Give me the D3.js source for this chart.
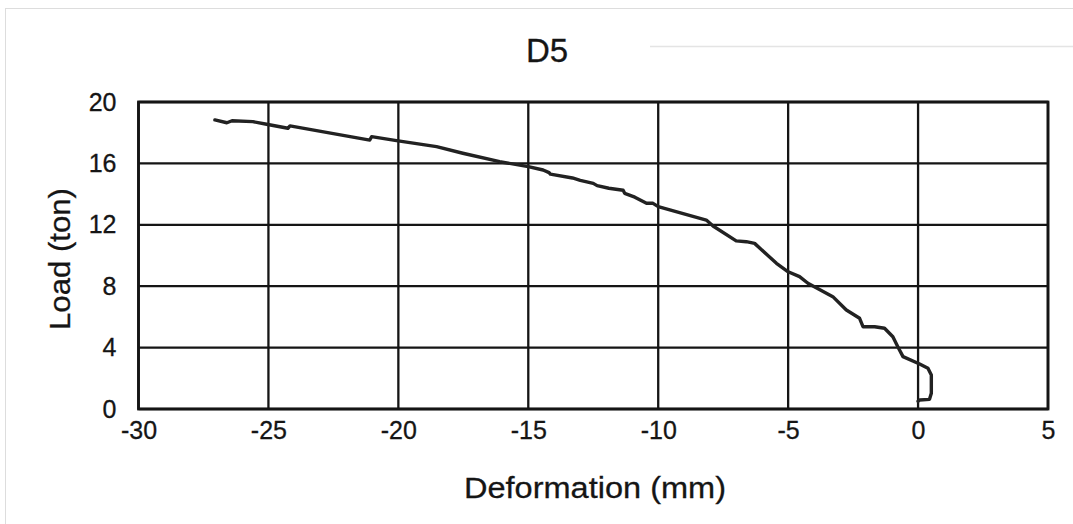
<!DOCTYPE html>
<html><head><meta charset="utf-8">
<script src="https://cdn.jsdelivr.net/npm/d3@7"></script>
<style>body{margin:0;background:#fff}svg{display:block}</style>
</head><body>
<svg id="c" width="1073" height="524"></svg>
<script>
const title = "D5";
const xLabel = "Deformation (mm)";
const yLabel = "Load (ton)";
const xTicks = [-30,-25,-20,-15,-10,-5,0,5];
const yTicks = [0,4,8,12,16,20];
const deformation = [0.0,0.06,0.44,0.51,0.51,0.38,0.06,-0.58,-0.78,-0.97,-1.29,-1.67,-2.12,-2.25,-2.76,-3.28,-4.24,-4.56,-5.0,-5.45,-6.29,-6.61,-7.0,-7.89,-8.15,-10.0,-10.2,-10.45,-10.9,-11.29,-11.35,-11.9,-12.35,-12.5,-13.0,-13.3,-14.15,-14.2,-14.43,-15.0,-16.1,-17.52,-18.53,-20.07,-21.03,-21.1,-24.17,-24.25,-25.07,-25.6,-26.4,-26.6,-27.06];
const load = [0.5,0.59,0.63,1.02,2.21,2.65,2.93,3.41,4.06,4.71,5.26,5.36,5.36,5.91,6.45,7.32,8.19,8.62,8.94,9.49,10.79,10.9,10.95,11.92,12.31,13.18,13.4,13.4,13.8,14.05,14.25,14.38,14.55,14.7,14.9,15.05,15.3,15.4,15.57,15.79,16.11,16.66,17.09,17.48,17.74,17.52,18.44,18.29,18.55,18.72,18.78,18.65,18.83];

const FONT = "Liberation Sans, Arial, sans-serif";
const svg = d3.select("#c");
const L = 138.5, R = 1048, T = 102, B = 409;
const x = d3.scaleLinear().domain([-30,5]).range([L,R]);
const y = d3.scaleLinear().domain([0,20]).range([B,T]);

// faint outer frame
svg.append("rect").attr("x",5.5).attr("y",8.5).attr("width",1080).attr("height",530)
  .attr("fill","none").attr("stroke","#ddd").attr("stroke-width",1);
svg.append("line").attr("x1",650).attr("x2",1073).attr("y1",46.5).attr("y2",46.5)
  .attr("stroke","#e4e4e4").attr("stroke-width",1.5);

// gridlines
svg.append("g").selectAll("line").data(xTicks).join("line")
  .attr("x1",d=>x(d)).attr("x2",d=>x(d)).attr("y1",T).attr("y2",B)
  .attr("stroke","#151515").attr("stroke-width",2.3);
svg.append("g").selectAll("line").data(yTicks).join("line")
  .attr("x1",L).attr("x2",R).attr("y1",d=>y(d)).attr("y2",d=>y(d))
  .attr("stroke","#151515").attr("stroke-width",2.3);
svg.append("rect").attr("x",L).attr("y",T).attr("width",R-L).attr("height",B-T)
  .attr("fill","none").attr("stroke","#151515").attr("stroke-width",2.8);

// axes text
const xAxis = d3.axisBottom(x).tickValues(xTicks).tickSize(0).tickPadding(12).tickFormat(d=>String(d));
const gx = svg.append("g").attr("transform",`translate(0,${B})`).call(xAxis);
gx.select(".domain").remove();
gx.selectAll("text").attr("font-family",FONT).attr("font-size",25).attr("fill","#151515")
  .attr("stroke","#151515").attr("stroke-width",0.3);
const yAxis = d3.axisLeft(y).tickValues(yTicks).tickSize(0).tickPadding(22).tickFormat(d=>String(d));
const gy = svg.append("g").attr("transform",`translate(${L},0)`).call(yAxis);
gy.select(".domain").remove();
gy.selectAll("text").attr("font-family",FONT).attr("font-size",25).attr("fill","#151515")
  .attr("stroke","#151515").attr("stroke-width",0.3);

// curve
const line = d3.line().x(d=>x(d[0])).y(d=>y(d[1]));
svg.append("path").datum(deformation.map((d,i)=>[d,load[i]]))
  .attr("d",line).attr("fill","none").attr("stroke","#222").attr("stroke-width",3.4)
  .attr("stroke-linejoin","round").attr("stroke-linecap","round");

// titles
svg.append("text").attr("x",547).attr("y",62).attr("text-anchor","middle")
  .attr("font-family",FONT).attr("font-size",33).attr("fill","#151515")
  .attr("stroke","#151515").attr("stroke-width",0.3).text(title);
svg.append("text").attr("x",595).attr("y",498).attr("text-anchor","middle")
  .attr("font-family",FONT).attr("font-size",30).attr("fill","#151515")
  .attr("stroke","#151515").attr("stroke-width",0.3)
  .attr("textLength",262).attr("lengthAdjust","spacingAndGlyphs").text(xLabel);
svg.append("text").attr("transform","translate(70,259) rotate(-90)").attr("text-anchor","middle")
  .attr("font-family",FONT).attr("font-size",30).attr("fill","#151515")
  .attr("stroke","#151515").attr("stroke-width",0.3)
  .attr("textLength",142).attr("lengthAdjust","spacingAndGlyphs").text(yLabel);
</script>
</body></html>
